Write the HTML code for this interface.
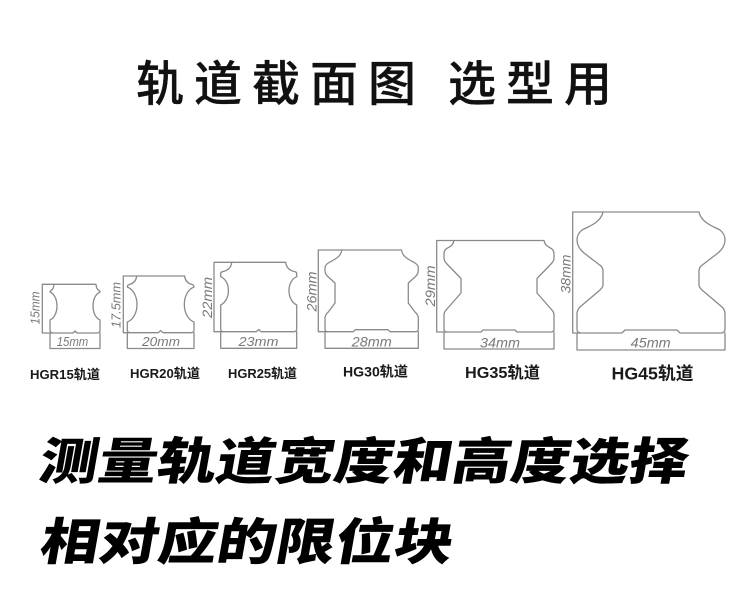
<!DOCTYPE html>
<html>
<head>
<meta charset="utf-8">
<style>
  html, body { margin: 0; padding: 0; background: #ffffff; }
  body { width: 750px; height: 606px; overflow: hidden; }
  svg { display: block; }
</style>
</head>
<body>
<svg width="750" height="606" viewBox="0 0 750 606" xmlns="http://www.w3.org/2000/svg">
  <rect x="0" y="0" width="750" height="606" fill="#ffffff"/>

  <!-- Title -->
  <g font-family="'Liberation Sans', 'Noto Sans CJK SC', sans-serif" font-size="48" font-weight="500" fill="#111" stroke="#111" stroke-width="0.35">
    <text x="136" y="100.5" letter-spacing="10">轨道截面图</text>
    <text x="448" y="100.5" letter-spacing="10">选型用</text>
  </g>

  <!-- Profiles -->
  <g fill="none" stroke="#8a8a8a" stroke-width="1.3" stroke-linejoin="round" stroke-linecap="round">
    <!-- HGR15 -->
    <path d="M54,284.3 L96,284.3 Q96.5,289.5 99,290.5 Q100,291 100,292 C90.7,296 90.7,316 100,320 L100,330 Q100,333 97,333 L77,333 L75,331 L73,333 L53,333 Q50,333 50,330 L50,320 C59.3,316 59.3,296 50,292 Q50,291 51,290.5 Q53.5,289.5 54,284.3 Z"/>
    <path d="M54,284.3 L42.3,284.3 L42.3,333 L53,333 M50,333 L50,348.5 L100,348.5 L100,333"/>

    <!-- HGR20 -->
    <path d="M136.7,276 L184.6,276 Q185.5,283 192,284.5 Q194,285 194,287 C181.1,292 181.1,317 194,322 L194,329.7 Q194,332.7 191,332.7 L163,332.7 L160.65,330.5 L158.3,332.7 L130.3,332.7 Q127.3,332.7 127.3,329.7 L127.3,322 C140.2,317 140.2,292 127.3,287 Q127.3,285 129.3,284.5 Q135.8,283 136.7,276 Z"/>
    <path d="M136.7,276 L123.3,276 L123.3,332.7 L130.3,332.7 M127.3,332.7 L127.3,348.5 L194,348.5 L194,332.7"/>

    <!-- HGR25 -->
    <path d="M231.7,262.3 L285.7,262.3 Q286.5,270 295,271.7 Q296.7,272 296.7,274 L296.7,276.7 C286.4,281 286.4,300 296.7,305 L296.7,328.7 Q296.7,331.7 293.7,331.7 L261,331.7 L258.7,329.5 L256.4,331.7 L223.7,331.7 Q220.7,331.7 220.7,328.7 L220.7,305 C231,300 231,281 220.7,276.7 L220.7,274 Q220.7,272 222.4,271.7 Q230.9,270 231.7,262.3 Z"/>
    <path d="M231.7,262.3 L214,262.3 L214,331.7 L223.7,331.7 M220.7,331.7 L220.7,348.3 L296.7,348.3 L296.7,331.7"/>

    <!-- HG30 -->
    <path d="M341.7,250 L401.6,250 C402,257 410,260 415,263 Q418.3,265 418.3,268 L418.3,271 Q418.3,274 415,277 L408.3,283 L408.3,303 L415,312 Q418.3,315 418.3,318 L418.3,328.7 Q418.3,331.7 415.3,331.7 L390,331.7 L388,329.7 L355.3,329.7 L353.3,331.7 L328,331.7 Q325,331.7 325,328.7 L325,318 Q325,315 328.3,312 L335,303 L335,283 L328.3,277 Q325,274 325,271 L325,268 Q325,265 328.3,263 C333.3,260 341.3,257 341.7,250 Z"/>
    <path d="M341.7,250 L318.3,250 L318.3,331.7 L328,331.7 M325,331.7 L325,348.3 L418.3,348.3 L418.3,331.7"/>

    <!-- HG35 -->
    <path d="M454,240.5 L544,240.5 C545,246 549,247 552,249 Q554,251 554,254 L554,258 Q554,261 551,264 L537,278.5 L537,293 L551,309 Q554,312 554,315 L554,329 Q554,332 551,332 L517,332 L515,330 L483,330 L481,332 L447,332 Q444,332 444,329 L444,315 Q444,312 447,309 L461,293 L461,278.5 L447,264 Q444,261 444,258 L444,254 Q444,251 446,249 C449,247 453,246 454,240.5 Z"/>
    <path d="M454,240.5 L436.7,240.5 L436.7,332 L447,332 M444,332 L444,349 L554,349 L554,332"/>

    <!-- HG45 -->
    <path d="M603,212 L699,212 C701,222 712,226 720,230 Q725,234 725,240 Q725,247 718,253 L701,266 Q699,268 699,271 L699,285 Q699,287 702,290 L722,307 Q725,310 725,314 L725,329 Q725,333 721,333 L680,333 L677,330 L625,330 L622,333 L581,333 Q577,333 577,329 L577,314 Q577,310 580,307 L600,290 Q603,287 603,285 L603,271 Q603,268 601,266 L584,253 Q577,247 577,240 Q577,234 582,230 C590,226 601,222 603,212 Z"/>
    <path d="M603,212 L572.7,212 L572.7,333 L581,333 M577,333 L577,350 L725,350 L725,333"/>
  </g>

  <!-- Dimension texts -->
  <g font-family="'Liberation Sans', sans-serif" font-style="italic" fill="#7a7a7a" text-anchor="middle">
    <text x="72.5" y="346" font-size="12.5" textLength="31.5" lengthAdjust="spacingAndGlyphs">15mm</text>
    <text x="161" y="346" font-size="13" textLength="38" lengthAdjust="spacingAndGlyphs">20mm</text>
    <text x="258.5" y="346" font-size="13" textLength="40" lengthAdjust="spacingAndGlyphs">23mm</text>
    <text x="371.7" y="346.5" font-size="13.5" textLength="40" lengthAdjust="spacingAndGlyphs">28mm</text>
    <text x="500" y="347.5" font-size="14" textLength="40" lengthAdjust="spacingAndGlyphs">34mm</text>
    <text x="650.7" y="347.5" font-size="14" textLength="40" lengthAdjust="spacingAndGlyphs">45mm</text>
    <text transform="translate(39.5,308) rotate(-90)" font-size="13" textLength="33" lengthAdjust="spacingAndGlyphs">15mm</text>
    <text transform="translate(120.5,305) rotate(-90)" font-size="13" textLength="46" lengthAdjust="spacingAndGlyphs">17.5mm</text>
    <text transform="translate(212,297.5) rotate(-90)" font-size="13.5" textLength="41" lengthAdjust="spacingAndGlyphs">22mm</text>
    <text transform="translate(316.5,291.5) rotate(-90)" font-size="14" textLength="40" lengthAdjust="spacingAndGlyphs">26mm</text>
    <text transform="translate(435,286) rotate(-90)" font-size="14" textLength="41" lengthAdjust="spacingAndGlyphs">29mm</text>
    <text transform="translate(570.5,274) rotate(-90)" font-size="14" textLength="39" lengthAdjust="spacingAndGlyphs">38mm</text>
  </g>

  <!-- Model labels -->
  <g font-family="'Liberation Sans', 'Noto Sans CJK SC', sans-serif" font-weight="bold" fill="#1a1a1a">
    <text x="30" y="379" font-size="13" textLength="70" lengthAdjust="spacingAndGlyphs">HGR15轨道</text>
    <text x="130" y="378" font-size="13" textLength="70" lengthAdjust="spacingAndGlyphs">HGR20轨道</text>
    <text x="228" y="378" font-size="13" textLength="69" lengthAdjust="spacingAndGlyphs">HGR25轨道</text>
    <text x="343" y="376.5" font-size="14" textLength="65" lengthAdjust="spacingAndGlyphs">HG30轨道</text>
    <text x="465" y="378" font-size="16" textLength="75" lengthAdjust="spacingAndGlyphs">HG35轨道</text>
    <text x="611.5" y="379.5" font-size="17.5" textLength="82" lengthAdjust="spacingAndGlyphs">HG45轨道</text>
  </g>

  <!-- Bottom heavy text -->
  <g font-family="'Noto Sans CJK SC', 'WenQuanYi Zen Hei', sans-serif" font-weight="900" font-size="50" fill="#000">
    <text transform="translate(37,479) skewX(-10) scale(1.18,1)" x="0" y="0">测量轨道宽度和高度选择</text>
    <text transform="translate(38,559.5) skewX(-10) scale(1.18,1)" x="0" y="0">相对应的限位块</text>
  </g>
</svg>
</body>
</html>
